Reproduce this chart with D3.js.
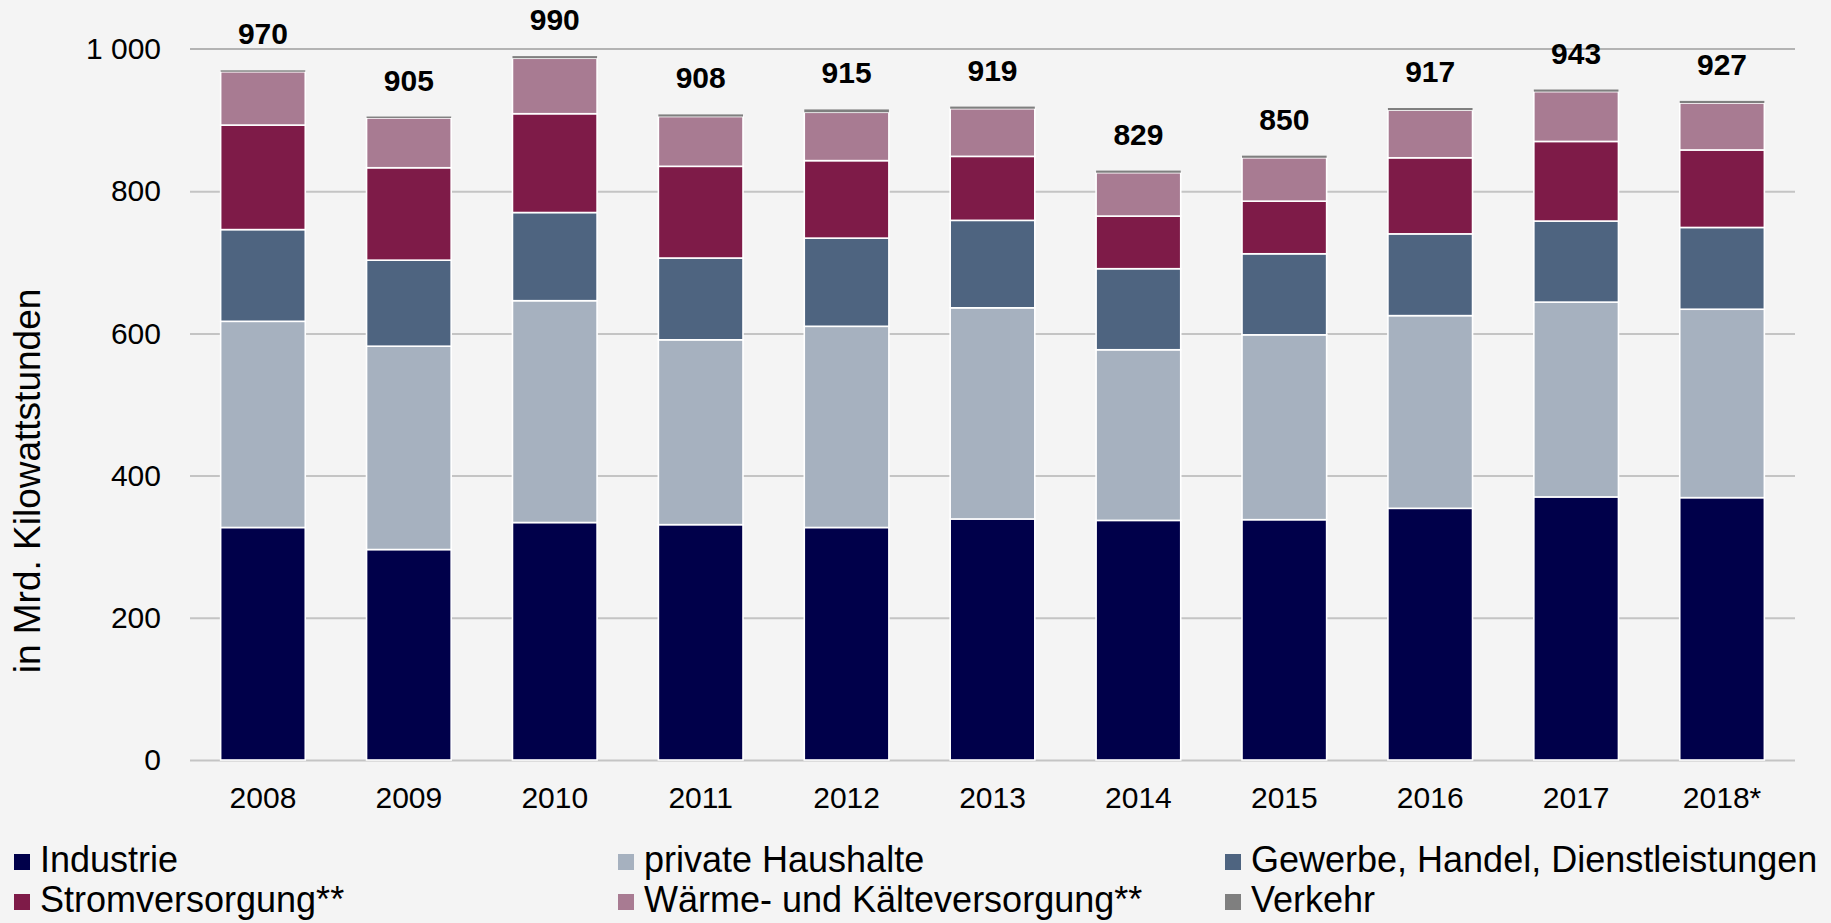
<!DOCTYPE html>
<meta charset="utf-8">
<style>
body { margin: 0; background: #f4f4f4; }
svg { display: block; font-family: "Liberation Sans", Arial, sans-serif; }
.grid line { stroke: #c4c4c4; stroke-width: 2; }
.grid path { display: none; }
.axis path { display: none; }
.axis text { fill: #000; }
</style>
<svg width="1831" height="923"></svg>
<script src="https://cdn.jsdelivr.net/npm/d3@7"></script>
<script>

// Stromverbrauch nach Sektoren, in Mrd. kWh
var years = ["2008", "2009", "2010", "2011", "2012", "2013", "2014", "2015", "2016", "2017", "2018*"];
var industrie   = [327, 296, 334, 331, 327, 339, 337, 338, 354, 370, 369];
var haushalte   = [290, 286, 312, 260, 283, 297, 240, 260, 271, 274, 265];
var gewerbe     = [129, 121, 124, 115, 124, 123, 114, 114, 115, 114, 115];
var strom       = [147, 130, 139, 129, 109,  90,  74,  74, 107, 112, 109];
var waerme      = [ 75,  70,  78,  70,  68,  67,  61,  61,  67,  70,  66];
var verkehr     = [  2,   2,   3,   3,   4,   3,   3,   3,   3,   3,   3];
var totals      = [970, 905, 990, 908, 915, 919, 829, 850, 917, 943, 927];

var seriesNames = ["Industrie", "private Haushalte", "Gewerbe, Handel, Dienstleistungen",
                   "Stromversorgung**", "Wärme- und Kälteversorgung**", "Verkehr"];
var seriesValues = [industrie, haushalte, gewerbe, strom, waerme, verkehr];
var colors = ["#00004a", "#a6b1bf", "#4e6480", "#7e1b48", "#a87b92", "#7f7f7f"];
var yTicks = [0, 200, 400, 600, 800, 1000];

var svg = d3.select("svg"),
    margin = {top: 49, right: 36, bottom: 163, left: 190},
    width = +svg.attr("width") - margin.left - margin.right,
    height = +svg.attr("height") - margin.top - margin.bottom;

var g = svg.append("g").attr("transform", "translate(" + margin.left + "," + margin.top + ")");

// table for the stack
var rows = years.map(function(yr, i) {
    var r = {year: yr};
    seriesNames.forEach(function(n, k) { r[n] = seriesValues[k][i]; });
    return r;
});
var stacked = d3.stack().keys(seriesNames)(rows);

var x = d3.scaleBand()
    .domain(years)
    .range([0, width])
    .paddingInner(0.42)
    .paddingOuter(0.21);

var y = d3.scaleLinear()
    .domain([0, 1000])
    .range([height, 0]);

var loc = d3.formatLocale({decimal: ",", thousands: "\u00a0", grouping: [3], currency: ["", "€"]});

// gridlines
g.append("g")
    .attr("class", "grid")
    .call(d3.axisLeft(y).tickValues(yTicks.slice(0, -1)).tickSize(-width).tickFormat(""));

g.append("line")
    .attr("x1", 0).attr("x2", width)
    .attr("y1", y(1000)).attr("y2", y(1000))
    .attr("stroke", "#9e9e9e")
    .attr("stroke-width", 1.3);

// bars
var layer = g.selectAll(".layer")
    .data(stacked)
    .enter().append("g")
    .attr("class", "layer")
    .attr("fill", function(d, i) { return colors[i]; });

layer.selectAll("rect")
    .data(function(d) { return d; })
    .enter().append("rect")
    .attr("x", function(d) { return x(d.data.year); })
    .attr("y", function(d) { return y(d[1]); })
    .attr("width", x.bandwidth())
    .attr("height", function(d) { return y(d[0]) - y(d[1]); })
    .attr("stroke", function() { return this.parentNode.__data__.key == "Verkehr" ? "none" : "#fff"; })
    .attr("stroke-width", 1.6);

// total labels
g.selectAll(".total")
    .data(totals)
    .enter().append("text")
    .attr("class", "total")
    .attr("x", function(d, i) { return x(years[i]) + x.bandwidth() / 2; })
    .attr("y", function(d, i) { return y(stacked[stacked.length - 1][i][1]) - 26; })
    .attr("text-anchor", "middle")
    .attr("font-size", "30px")
    .attr("font-weight", "bold")
    .text(function(d) { return d; });

// axes
g.append("g")
    .attr("class", "axis")
    .call(d3.axisLeft(y).tickValues(yTicks).tickSize(0).tickPadding(29).tickFormat(loc.format(",")))
    .selectAll("text").attr("font-size", "30px");

g.append("g")
    .attr("class", "axis")
    .attr("transform", "translate(0," + height + ")")
    .call(d3.axisBottom(x).tickSize(0).tickPadding(27))
    .selectAll("text").attr("font-size", "30px");

svg.selectAll(".axis").attr("font-family", null).attr("font-size", null);

svg.append("text")
    .attr("transform", "translate(40,481) rotate(-90)")
    .attr("text-anchor", "middle")
    .attr("font-size", "37px")
    .text("in Mrd. Kilowattstunden");

// legend, 3 columns x 2 rows
var legX = [14, 618, 1225],
    legY = [872, 912];

var legend = svg.selectAll(".legend")
    .data(seriesNames)
    .enter().append("g")
    .attr("class", "legend")
    .attr("transform", function(d, i) { return "translate(" + legX[i % 3] + "," + legY[Math.floor(i / 3)] + ")"; });

legend.append("rect")
    .attr("x", 0)
    .attr("y", -18)
    .attr("width", 16)
    .attr("height", 16)
    .attr("fill", function(d, i) { return colors[i]; });

legend.append("text")
    .attr("x", 26)
    .attr("y", 0)
    .attr("font-size", "36px")
    .text(function(d) { return d; });

</script>
